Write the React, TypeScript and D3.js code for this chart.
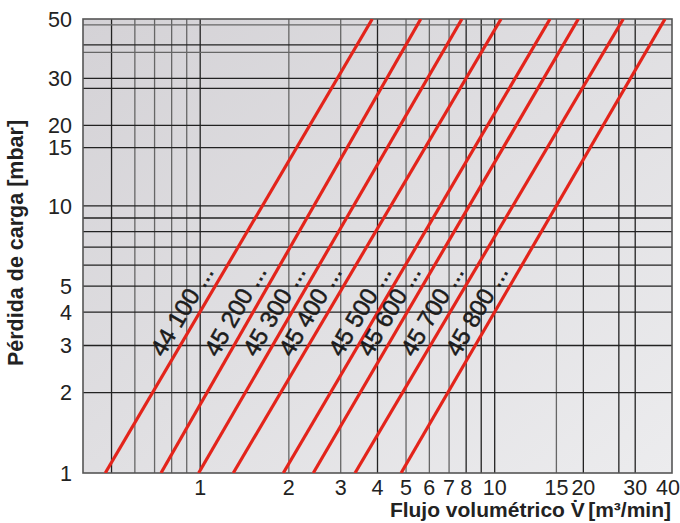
import React from "react";
import * as d3 from "d3";

// ---- data ----
const xGridValues = [0.5, 0.6, 0.7, 0.8, 0.9, 1, 2, 3, 4, 5, 6, 7, 8, 9, 10, 16.2, 20, 26.4, 30];
const xTickValues = [1, 2, 3, 4, 5, 6, 7, 8, 10, 16.2, 20, 30, 40];
const xTickLabels = ["1", "2", "3", "4", "5", "6", "7", "8", "10", "15", "20", "30", "40"];
const yGridValues = [2, 3, 4, 5, 6, 7, 8, 9, 10, 16.5, 20, 27.5, 30, 37.5, 40, 47.5];
const yTickValues = [1, 2, 3, 4, 5, 10, 16.5, 20, 30, 50];
const yTickLabels = ["1", "2", "3", "4", "5", "10", "15", "20", "30", "50"];

const seriesNames = ["44 100 ...", "45 200 ...", "45 300 ...", "45 400 ...", "45 500 ...", "45 600 ...", "45 700 ...", "45 800 ..."];
// flow (m³/min) at 1 mbar and at 50 mbar for each line
const flowAt1 = [0.476, 0.736, 0.988, 1.295, 1.915, 2.421, 3.355, 4.81];
const flowAt50 = [3.84, 5.61, 7.74, 10.51, 15.41, 19.23, 27.33, 37.87];
const pMin = 1;
const pMax = 50;
const labelPressure = 2.6;

// styling helpers (not data)
const greyVerticals = new Set([0.6, 0.7, 0.8, 0.9, 2, 3, 5, 6, 7, 16.2]);
const greyHorizontals = new Set([47.5, 37.5]);

const W = 680;
const H = 523;
const L = 83, R = 672, T = 19, B = 473;

export default function App() {
  const x = d3.scaleLog().domain([0.4, 40]).range([L, R]);
  const y = d3.scaleLog().domain([pMin, pMax]).range([B, T]);
  const font = "'Liberation Sans', Arial, Helvetica, sans-serif";

  const lines = seriesNames.map((name, i) => {
    const pts: [number, number][] = [
      [flowAt1[i], pMin],
      [flowAt50[i], pMax],
    ];
    const x1 = x(pts[0][0]), y1 = y(pts[0][1]);
    const x2 = x(pts[1][0]), y2 = y(pts[1][1]);
    const len = Math.hypot(x2 - x1, y2 - y1);
    const ux = (x2 - x1) / len, uy = (y2 - y1) / len;
    const nx = uy, ny = -ux; // up-left normal
    const t = Math.log(labelPressure / pMin) / Math.log(pMax / pMin);
    const vLab = Math.exp(Math.log(flowAt1[i]) + t * (Math.log(flowAt50[i]) - Math.log(flowAt1[i])));
    const px = x(vLab), py = y(labelPressure);
    const gap = 8;
    const ox = px + nx * gap, oy = py + ny * gap;
    const ang = (Math.atan2(uy, ux) * 180) / Math.PI;
    const path = d3.line<[number, number]>().x((d) => x(d[0])).y((d) => y(d[1]))(pts) || "";
    return { name, path, ox, oy, ang };
  });

  return (
    <svg width={W} height={H} style={{ display: "block", position: "absolute", left: 0, top: 0 }}>
      <defs>
        <linearGradient id="bg" x1="0" y1="0" x2="1" y2="1">
          <stop offset="0" stopColor="#d4d2d6" />
          <stop offset="1" stopColor="#ececee" />
        </linearGradient>
        <clipPath id="plot">
          <rect x={L} y={T} width={R - L} height={B - T} />
        </clipPath>
      </defs>
      <rect x={0} y={0} width={W} height={H} fill="#ffffff" />
      <rect x={L} y={T} width={R - L} height={B - T} fill="url(#bg)" />
      {xGridValues.map((v) => (
        <line key={"vx" + v} x1={x(v)} x2={x(v)} y1={T} y2={B}
          stroke={greyVerticals.has(v) ? "#666" : "#222"} strokeWidth={1.3} />
      ))}
      {yGridValues.map((v) => (
        <line key={"hy" + v} x1={L} x2={R} y1={y(v)} y2={y(v)}
          stroke={greyHorizontals.has(v) ? "#666" : "#222"} strokeWidth={1.3} />
      ))}
      <rect x={L} y={T} width={R - L} height={B - T} fill="none" stroke="#555" strokeWidth={1.6} />
      <g clipPath="url(#plot)">
        {lines.map((l) => (
          <path key={l.name} d={l.path} stroke="#e3241b" strokeWidth={3.2} fill="none" />
        ))}
      </g>
      {lines.map((l) => (
        <text key={"t" + l.name} x={0} y={0} transform={`translate(${l.ox},${l.oy}) rotate(${l.ang})`}
          fontFamily={font} fontSize={24} fill="#1c1c1c" stroke="#1c1c1c" strokeWidth={0.5}>{l.name}</text>
      ))}
      {yTickValues.map((v, i) => (
        <text key={"yt" + v} x={72} y={y(v)} dy="0.36em" textAnchor="end"
          fontFamily={font} fontSize={21.5} fill="#222">{yTickLabels[i]}</text>
      ))}
      {xTickValues.map((v, i) => {
        const px = x(v);
        const near = px > R - 8;
        return (
          <text key={"xt" + v} x={near ? 680 : px} y={495} textAnchor={near ? "end" : "middle"}
            fontFamily={font} fontSize={21.5} fill="#222">{xTickLabels[i]}</text>
        );
      })}
      <text x={671} y={517} textAnchor="end" fontFamily={font} fontSize={21} fontWeight="bold" fill="#222">
        Flujo volumétrico V
        <tspan dx="-0.62em" dy="-0.1em">˙</tspan>
        <tspan dx="0.45em" dy="0.1em">[m³/min]</tspan>
      </text>
      <text transform={`translate(23,243) rotate(-90)`} textAnchor="middle" fontFamily={font} fontSize={21.5}
        fontWeight="bold" fill="#222">
        Pérdida de carga [mbar]
      </text>
    </svg>
  );
}
